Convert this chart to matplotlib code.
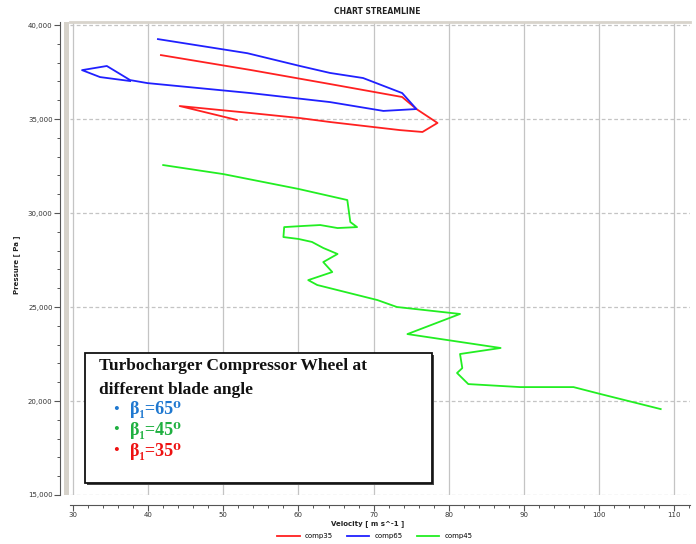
import matplotlib
matplotlib.use("Agg")
import matplotlib.pyplot as plt
from matplotlib.patches import Rectangle
from matplotlib.ticker import MultipleLocator, FuncFormatter

# ---------------- data ----------------
blue_v = [41.3, 53.2, 60.2, 64.2, 68.6, 73.8, 75.7, 71.3, 64.2, 53.6, 39.9, 37.6, 34.5, 31.2, 33.6, 37.6]
blue_p = [39250, 38500, 37820, 37450, 37180, 36380, 35530, 35430, 35900, 36380, 36910, 37070, 37820, 37600, 37230, 37020]

red_v = [41.7, 53.6, 64.2, 73.8, 75.7, 78.5, 76.5, 73.5, 64.2, 60.2, 53.6, 44.2, 51.8]
red_p = [38400, 37610, 36860, 36170, 35530, 34790, 34310, 34410, 34840, 35050, 35320, 35690, 34950]

green_v = [42.0, 50.0, 60.0, 66.5, 66.9, 67.8, 65.2, 62.9, 60.6, 58.1, 58.0, 60.0, 61.8, 63.3, 65.2,
           63.3, 64.5, 61.3, 62.5, 70.5, 73.1, 81.5, 74.5, 86.9, 81.5, 81.8, 81.1, 82.6, 89.5, 96.6,
           100.2, 108.2]
green_p = [32550, 32070, 31280, 30690, 29520, 29250, 29200, 29360, 29310, 29250, 28720, 28620, 28460,
           28140, 27820, 27390, 26860, 26430, 26170, 25370, 25000, 24630, 23560, 22820, 22500, 21750,
           21490, 20900, 20740, 20740, 20370, 19570]

series_labels = ["comp35", "comp65", "comp45"]
x_ticks = [30, 40, 50, 60, 70, 80, 90, 100, 110]
y_ticks = [15000, 20000, 25000, 30000, 35000, 40000]
legend_items = ["β₁=65⁰", "β₁=45⁰", "β₁=35⁰"]
legend_colors = ["#1f78d0", "#1fb040", "#ee1111"]

# ---------------- figure ----------------
fig = plt.figure(figsize=(6.96, 5.44), dpi=100)
ax = fig.add_axes([70/696, 1-495/544, 620/696, 473/544])

ax.plot(red_v, red_p, color="#ff2020", lw=1.3, label=series_labels[0])
ax.plot(blue_v, blue_p, color="#2020ff", lw=1.3, label=series_labels[1])
ax.plot(green_v, green_p, color="#22ee22", lw=1.3, label=series_labels[2])

ax.set_xlim(29.6, 112.1)
ax.set_ylim(15000, 40160)
ax.set_xticks(x_ticks)
ax.set_yticks(y_ticks)
ax.xaxis.set_minor_locator(MultipleLocator(2))
ax.yaxis.set_minor_locator(MultipleLocator(1000))
ax.yaxis.set_major_formatter(FuncFormatter(lambda v, p: f"{int(v):,}"))

ax.grid(axis="x", which="major", color="#c4c4c4", lw=0.9, ls="-")
ax.grid(axis="y", which="major", color="#c4c4c4", lw=0.9, ls=(0, (3, 2)))
ax.set_axisbelow(True)

ax.spines["right"].set_visible(False)
ax.spines["top"].set_color("#d8d4cc")
ax.spines["top"].set_linewidth(2.0)
ax.spines["left"].set_position(("outward", 7))
ax.spines["bottom"].set_position(("outward", 7))
ax.spines["left"].set_color("#555555")
ax.spines["bottom"].set_color("#555555")
ax.spines["left"].set_linewidth(0.8)
ax.spines["bottom"].set_linewidth(0.8)
ax.tick_params(axis="both", which="major", labelsize=5, length=4, width=0.8, colors="#555555",
               labelcolor="#333333", pad=1.5)
ax.tick_params(axis="both", which="minor", length=2.5, width=0.7, colors="#555555")

# grey band at left edge of plot area
fig.patches.append(Rectangle((64/696, 1-495/544), 5/696, 473/544, transform=fig.transFigure,
                             facecolor="#d6d2ca", edgecolor="none", zorder=0))

fig.text(377/696, 1-11/544, "CHART STREAMLINE", ha="center", va="center", fontsize=5.5,
         fontweight="bold", color="#222222")
fig.text(368/696, 1-524/544, "Velocity [ m s^-1 ]", ha="center", va="center", fontsize=5,
         fontweight="bold", color="#222222")
fig.text(17/696, 1-265/544, "Pressure [ Pa ]", ha="center", va="center", rotation=90,
         fontsize=5, fontweight="bold", color="#222222")

leg = fig.legend(loc="center", bbox_to_anchor=(375/696, 1-536/544), ncol=3, frameon=False,
                 fontsize=5, handlelength=3.2, columnspacing=2.0, handletextpad=0.8)

# annotation box
fig.patches.append(Rectangle((87/696, 1-485/544), 347/696, 130/544, transform=fig.transFigure,
                             facecolor="#444444", edgecolor="none", zorder=5))
fig.patches.append(Rectangle((85/696, 1-483/544), 347/696, 130/544, transform=fig.transFigure,
                             facecolor="white", edgecolor="#111111", lw=1.3, zorder=6))
serif = ["Liberation Serif", "DejaVu Serif"]
fig.text(99/696, 1-366/544, "Turbocharger Compressor Wheel at", ha="left", va="center",
         fontsize=12.5, family=serif, fontweight="bold", color="#111111", zorder=7)
fig.text(99/696, 1-390/544, "different blade angle", ha="left", va="center",
         fontsize=12.5, family=serif, fontweight="bold", color="#111111", zorder=7)
for i, (txt, col) in enumerate(zip(legend_items, legend_colors)):
    y = 1 - (410 + 20.5*i)/544
    fig.text(113/696, y, "•", ha="left", va="center", fontsize=12, family=serif,
             color=col, zorder=7)
    fig.text(130/696, y, txt, ha="left", va="center", fontsize=13, family=serif,
             fontweight="bold", color=col, zorder=7)

fig.savefig("out.png", dpi=100)
